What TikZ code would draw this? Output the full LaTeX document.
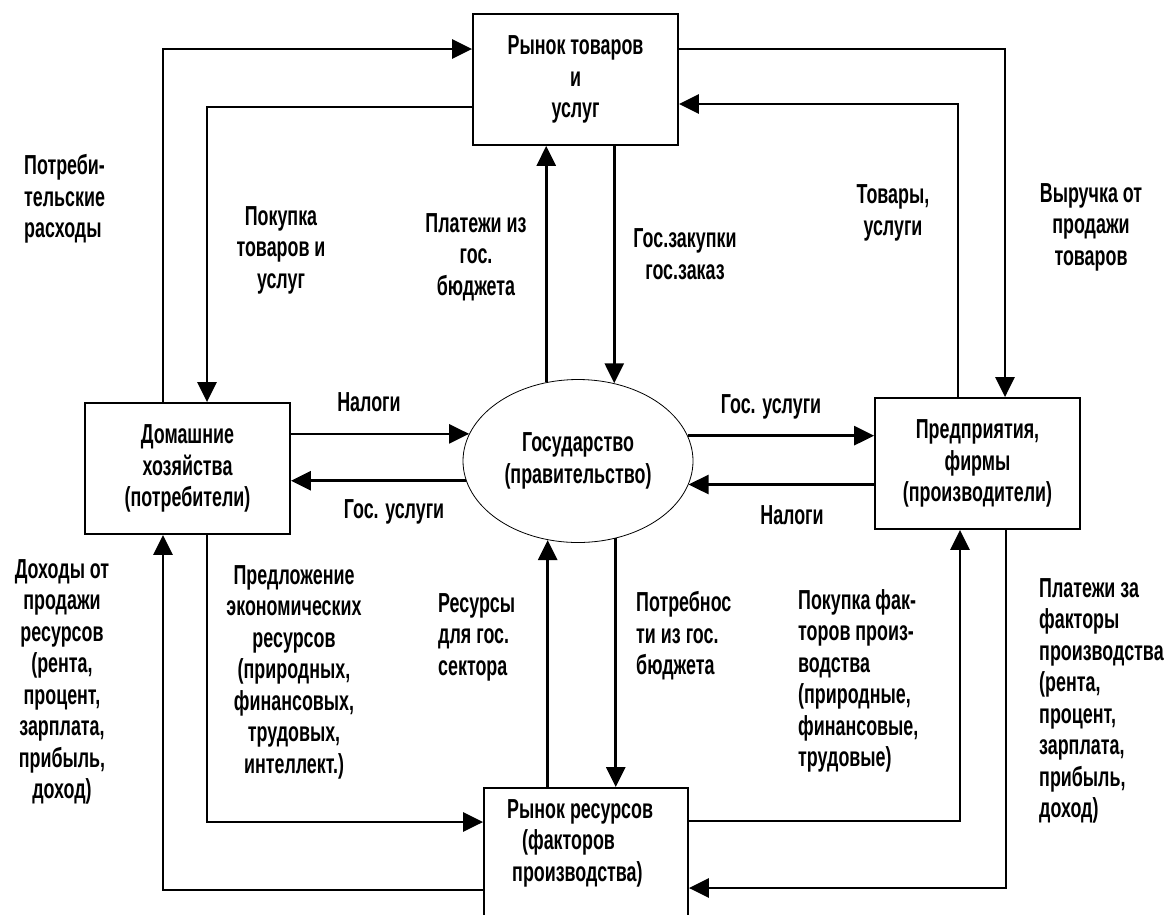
\documentclass[tikz,border=0pt]{standalone}
\usepackage{fontspec}
\setmainfont{Liberation Sans}[FakeStretch=0.65]
\usetikzlibrary{arrows.meta,shapes.geometric}
\begin{document}
\begin{tikzpicture}[x=1pt,y=-1pt,
  every node/.style={font=\bfseries\fontsize{27.5}{31.5}\selectfont},
  box/.style={draw, line width=1.8pt, minimum width=205pt, minimum height=131pt, inner sep=0pt, align=center},
  govshape/.style={draw, ellipse, line width=0.8pt, minimum width=230pt, minimum height=163pt, inner sep=0pt, align=center},
  conn/.style={line width=2.7pt, -{Triangle[length=20pt,width=19pt]}},
  lbl/.style={inner sep=0pt, align=center},
  lbll/.style={inner sep=0pt, align=left, anchor=west}]
\useasboundingbox (0,0) rectangle (1169,914);
\clip (0,0) rectangle (1169,914);
\fill[white] (0,0) rectangle (1169,914);

% main nodes
\node[box] (mkt) at (575.5,79.5) {Рынок товаров\\и\\услуг};
\node[box] (hh) at (187.5,468.5) {Домашние\\хозяйства\\(потребители)};
\node[box] (firm) at (977.5,463.5) {Предприятия,\\фирмы\\(производители)};
\node[govshape] (gov) at (578,461) {Государство\\(правительство)};
\node[box, minimum width=204pt, minimum height=140pt, anchor=north] (res) at (586,787) {};
\node[lbll] (restext) at (507,843) {Рынок ресурсов\\\hspace*{15pt}(факторов\\\hspace*{5pt}производства)};

% bend points
\coordinate (b1) at (163,49);
\coordinate (b2) at (207,107);
\coordinate (b3) at (1005,49);
\coordinate (b4) at (958,104);
\coordinate (b5) at (207,822);
\coordinate (b6) at (163,890);
\coordinate (b7) at (960,821);
\coordinate (b8) at (1006,888);

% outer connectors
\draw[conn] (hh.north -| b1) -- (b1) -- (mkt.west |- b1);
\draw[conn] (mkt.west |- b2) -- (b2) -- (hh.north -| b2);
\draw[conn] (mkt.east |- b3) -- (b3) -- (firm.north -| b3);
\draw[conn] (firm.north -| b4) -- (b4) -- (mkt.east |- b4);
\draw[conn] (hh.south -| b5) -- (b5) -- (res.west |- b5);
\draw[conn] (res.west |- b6) -- (b6) -- (hh.south -| b6);
\draw[conn] (res.east |- b7) -- (b7) -- (firm.south -| b7);
\draw[conn] (firm.south -| b8) -- (b8) -- (res.east |- b8);

% connectors around the state
\draw[conn] (gov.112.2) -- (gov.112.2 |- mkt.south);
\draw[conn] (mkt.south -| gov.65.1) -- (gov.65.1);
\draw[conn] (hh.east |- gov.166) -- (gov.166);
\draw[conn] (gov.190.2) -- (gov.190.2 -| hh.east);
\draw[conn] (gov.13.4) -- (gov.13.4 -| firm.west);
\draw[conn] (firm.west |- gov.348.8) -- (gov.348.8);
\draw[conn] (res.north -| gov.249.8) -- (gov.249.8);
\draw[conn] (gov.296.3) -- (gov.296.3 |- res.north);

% labels
\node[lbll] (t1) at (24,199) {Потреби-\\тельские\\расходы};
\node[lbl] (t2) at (281,250) {Покупка\\товаров и\\услуг};
\node[lbl] (t3) at (476,257) {Платежи из\\гос.\\бюджета};
\node[lbl] (t4) at (685,254) {Гос.закупки\\гос.заказ};
\node[lbl] (t5) at (893,213) {Товары,\\услуги};
\node[lbl] (t6) at (1091,227) {Выручка от\\продажи\\товаров};
\node[lbl] (t7) at (369,402) {Налоги};
\node[lbl] (t8) at (394,512) {Гос. услуги};
\node[lbl] (t9) at (771,407) {Гос. услуги};
\node[lbl] (t10) at (792,515) {Налоги};
\node[lbl] (t11) at (62,682) {Доходы от\\продажи\\ресурсов\\(рента,\\процент,\\зарплата,\\прибыль,\\доход)};
\node[lbl] (t12) at (294,672) {Предложение\\экономических\\ресурсов\\(природных,\\финансовых,\\трудовых,\\интеллект.)};
\node[lbll] (t13) at (438,637) {Ресурсы\\для гос.\\сектора};
\node[lbll] (t14) at (636,636) {Потребнос\\ти из гос.\\бюджета};
\node[lbll] (t15) at (798,681) {Покупка фак-\\торов произ-\\водства\\(природные,\\финансовые,\\трудовые)};
\node[lbll] (t16) at (1039,701) {Платежи за\\факторы\\производства\\(рента,\\процент,\\зарплата,\\прибыль,\\доход)};
\end{tikzpicture}
\end{document}
